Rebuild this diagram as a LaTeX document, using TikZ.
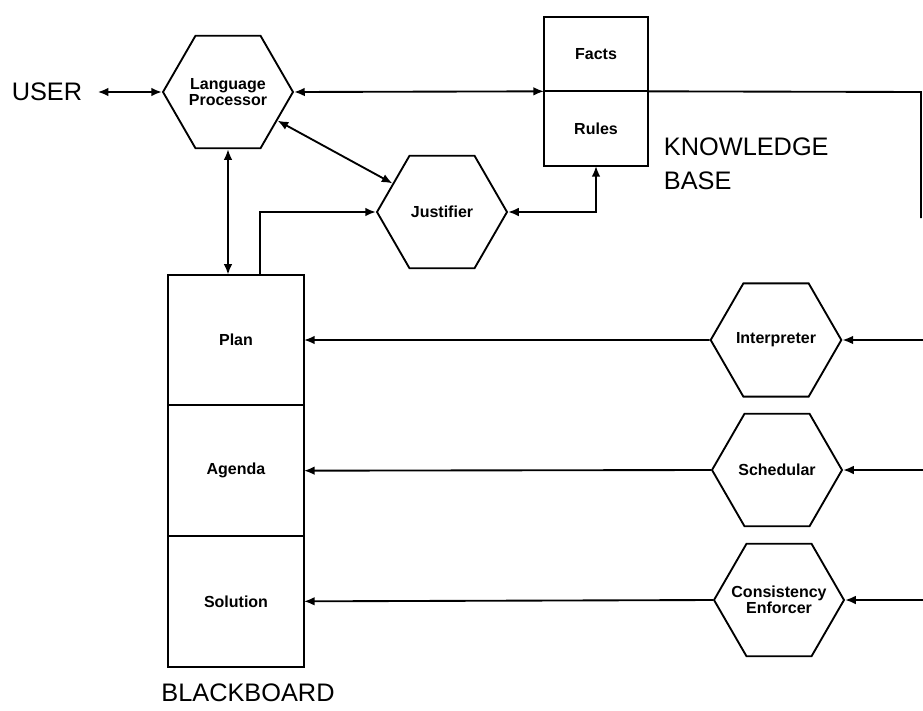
\documentclass[tikz,border=0pt]{standalone}
\usepackage{fontspec}
\setmainfont{Liberation Sans}
\usepackage{tikz}
\usetikzlibrary{arrows.meta,shapes,positioning}

% keeps wide lines from blowing up a hexagon
\newcommand{\hexline}[1]{\makebox[0pt]{#1}}

\begin{document}
\begin{tikzpicture}[
	x=0.75pt, y=-0.75pt,
	basic/.style  = {draw, inner sep=0pt, align=center, font=\fontsize{12}{13}\selectfont\bfseries},
	hexa/.style   = {basic, regular polygon, regular polygon sides=6, minimum size=97.5pt},
	cell/.style   = {basic, rectangle, outer sep=0pt, minimum width=102pt, minimum height=98pt},
	kbcell/.style = {basic, rectangle, outer sep=0pt, minimum width=78pt, minimum height=56pt},
	title/.style  = {inner sep=0pt, align=left, font=\fontsize{19}{25.5}\selectfont},
	line width=1.4pt,
	>={Latex[length=8pt,width=6.5pt]}]
	\useasboundingbox (0,0) rectangle (923,710);
	
	% processors, placed at coordinates
	\node[hexa] (lp) at (228,92) {\hexline{Language}\\[-1pt]\hexline{Processor}};
	\node[hexa] (just) at (442,212) {Justifier};
	\node[hexa] (interp) at (776,340) {Interpreter};
	\node[hexa] (sched) at (777,470) {Schedular};
	\node[hexa] (enforce) at (779,600) {\hexline{Consistency}\\[-1pt]\hexline{Enforcer}};
	
	% knowledge base, two cells
	\node[kbcell] (facts) at (596,54) {Facts};
	\node[kbcell, below=0pt of facts] (rules) {Rules};
	
	% blackboard, three stacked cells
	\node[cell] (plan) at (236,340) {Plan};
	\node[cell, below=0pt of plan] (agenda) {Agenda};
	\node[cell, below=0pt of agenda] (solution) {Solution};
	
	% plain labels
	\node[title, inner xsep=11pt] (user) at (47,92) {USER};
	\node[title, anchor=north west] (kbtitle) at (663,137) {KNOWLEDGE\\BASE};
	\node[title] (bbtitle) at (248,693) {BLACKBOARD};
	
	% links round the language processor
	\draw[<->] (user.east) -- (lp.west);
	\draw[<->] (lp.east) -- (facts.south west);
	\draw[<->] (lp.-30) -- (just.150);
	\draw[<->] (lp.south) -- (lp.south |- plan.north);
	
	% justifier links
	\draw[->] (plan.70) |- (just.west);
	\draw[<->] (just.east) -| (rules.south);
	
	% line on to the right edge
	\coordinate (busTop) at (921,92);
	\coordinate (busEnd) at (921,218);
	\draw (facts.south east) -- (busTop) -- (busEnd);
	
	% processors feeding the blackboard
	\foreach \h/\c in {interp/plan, sched/agenda, enforce/solution}{
		\coordinate (feed-\h) at (923,0 |- \h.east);
		\draw[->] (feed-\h) -- (\h.east);
		\draw[->] (\h.west) -- (\c.east);
	}
	
\end{tikzpicture}
\end{document}
